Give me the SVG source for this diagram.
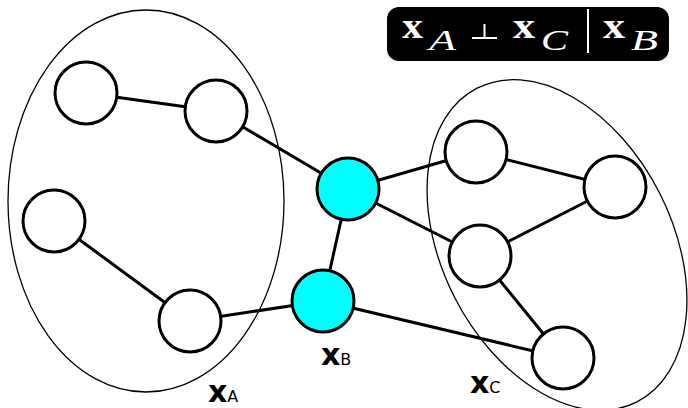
<svg xmlns="http://www.w3.org/2000/svg" width="688" height="408" viewBox="0 0 688 408">
<style>
.n{fill:#fff;stroke:#000;stroke-width:3}
.b{fill:#00ffff;stroke:#000;stroke-width:3}
.e{stroke:#000;stroke-width:3;fill:none}
.g{fill:none;stroke:#000;stroke-width:1.3}
.lx{font-family:"DejaVu Sans",sans-serif;font-weight:bold;font-size:30px}
.ls{font-family:"DejaVu Sans",sans-serif;font-size:16px}
.mx{font-family:"Liberation Serif",serif;font-weight:bold;font-size:36px;fill:#fff}
.ms{font-family:"Liberation Serif",serif;font-style:italic;font-size:29px;fill:#fff}
</style>
<rect width="688" height="408" fill="#fff"/>
<g id="groups">
<ellipse class="g" cx="146" cy="201" rx="138" ry="191"/>
<ellipse class="g" cx="557" cy="245" rx="115" ry="176" transform="rotate(-27 557 245)"/>
</g>
<g id="connectors">
<line class="e" x1="86" y1="93" x2="216" y2="111"/>
<line class="e" x1="216" y1="111" x2="348" y2="189"/>
<line class="e" x1="54" y1="221" x2="190" y2="321"/>
<line class="e" x1="190" y1="321" x2="323" y2="301"/>
<line class="e" x1="348" y1="189" x2="323" y2="301"/>
<line class="e" x1="348" y1="189" x2="476" y2="152"/>
<line class="e" x1="348" y1="189" x2="480" y2="256"/>
<line class="e" x1="323" y1="301" x2="563" y2="358"/>
<line class="e" x1="476" y1="152" x2="615" y2="187"/>
<line class="e" x1="615" y1="187" x2="480" y2="256"/>
<line class="e" x1="480" y1="256" x2="563" y2="358"/>
</g>
<g id="nA1"><circle class="n" cx="86" cy="93" r="31"/></g>
<g id="nA2"><circle class="n" cx="216" cy="111" r="31"/></g>
<g id="nA3"><circle class="n" cx="54" cy="221" r="31"/></g>
<g id="nA4"><circle class="n" cx="190" cy="321" r="31"/></g>
<g id="nB1"><circle class="b" cx="348" cy="189" r="31"/></g>
<g id="nB2"><circle class="b" cx="323" cy="301" r="31"/></g>
<g id="nC1"><circle class="n" cx="476" cy="152" r="31"/></g>
<g id="nC2"><circle class="n" cx="615" cy="187" r="31"/></g>
<g id="nC3"><circle class="n" cx="480" cy="256" r="31"/></g>
<g id="nC4"><circle class="n" cx="563" cy="358" r="31"/></g>
<g id="labels">
<text x="208" y="402"><tspan class="lx">x</tspan><tspan class="ls">A</tspan></text>
<text x="321" y="365"><tspan class="lx">x</tspan><tspan class="ls">B</tspan></text>
<text x="470" y="393"><tspan class="lx">x</tspan><tspan class="ls">C</tspan></text>
</g>
<g id="formula">
<rect x="387" y="7" width="282" height="54" rx="12" fill="#000"/>
<text class="mx" x="402" y="38" textLength="21" lengthAdjust="spacingAndGlyphs">x</text>
<text class="ms" x="429" y="50" textLength="27" lengthAdjust="spacingAndGlyphs">A</text>
<path d="M472 38H497M484.5 38V24" stroke="#fff" stroke-width="2" fill="none"/>
<text class="mx" x="513" y="38" textLength="22" lengthAdjust="spacingAndGlyphs">x</text>
<text class="ms" x="541" y="50" textLength="27" lengthAdjust="spacingAndGlyphs">C</text>
<line x1="588" y1="9" x2="588" y2="53" stroke="#fff" stroke-width="2"/>
<text class="mx" x="603" y="38" textLength="22" lengthAdjust="spacingAndGlyphs">x</text>
<text class="ms" x="631" y="50" textLength="27" lengthAdjust="spacingAndGlyphs">B</text>
</g>
</svg>
